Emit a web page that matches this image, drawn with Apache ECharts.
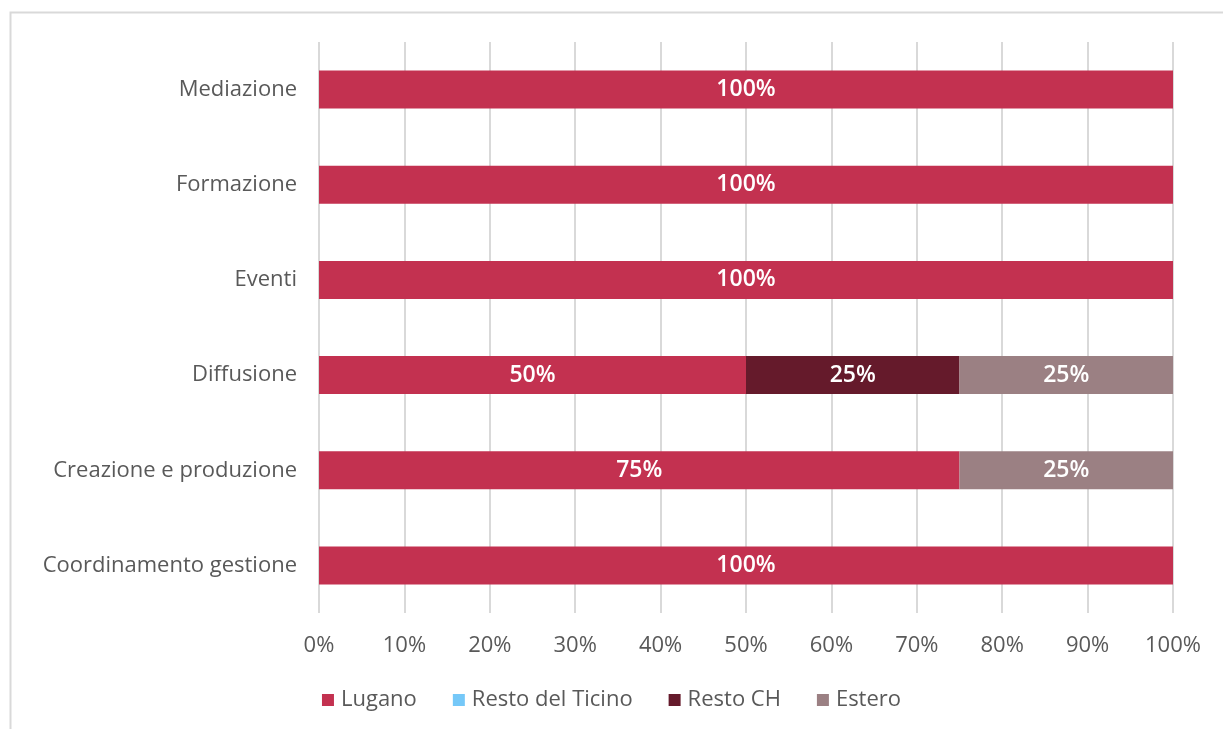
<!DOCTYPE html>
<html>
<head>
<meta charset="utf-8">
<script src="https://cdn.jsdelivr.net/npm/echarts@6/dist/echarts.min.js"></script>
<style>
  html, body { margin: 0; padding: 0; background: #fff; }
  #chart { width: 1223px; height: 729px; }
</style>
</head>
<body>
<div id="chart"></div>
<script>
// categories listed bottom to top
const categories = [
  "Coordinamento gestione",
  "Creazione e produzione",
  "Diffusione",
  "Eventi",
  "Formazione",
  "Mediazione",
];
const lugano = [100, 75, 50, 100, 100, 100];
const restoTicino = [0, 0, 0, 0, 0, 0];
const restoCH = [0, 0, 25, 0, 0, 0];
const estero = [0, 25, 25, 0, 0, 0];
const xTicks = [0, 10, 20, 30, 40, 50, 60, 70, 80, 90, 100];

const font = "'Open Sans', 'Noto Sans', sans-serif";
const textColor = "#595959";

const makeSeries = (name, data, color) => ({
  name,
  type: "bar",
  stack: "total",
  data,
  barWidth: "40%",
  itemStyle: { color },
  label: {
    show: true,
    position: "inside",
    color: "#fff",
    fontFamily: font,
    fontWeight: 600,
    fontSize: 23,
    formatter: (p) => (p.value ? p.value + "%" : ""),
  },
});

const chart = echarts.init(document.getElementById("chart"));
chart.setOption({
  animation: false,
  graphic: [
    {
      type: "rect",
      shape: { x: 10.5, y: 12.5, width: 1240, height: 740 },
      style: { fill: "none", stroke: "#d9d9d9", lineWidth: 2 },
      silent: true,
    },
  ],
  grid: { left: 319, right: 50, top: 42, bottom: 116 },
  legend: {
    bottom: 13,
    left: "center",
    itemWidth: 12,
    itemHeight: 12,
    itemGap: 36,
    icon: "rect",
    textStyle: { color: textColor, fontSize: 22, fontFamily: font, padding: [0, 0, 0, 2] },
    data: ["Lugano", "Resto del Ticino", "Resto CH", "Estero"],
  },
  xAxis: {
    type: "value",
    min: 0,
    max: 100,
    interval: 10,
    axisLine: { show: false },
    axisTick: { show: false },
    splitLine: { show: true, lineStyle: { color: "#d9d9d9", width: 2 } },
    axisLabel: {
      color: textColor,
      fontSize: 22,
      fontFamily: font,
      margin: 22,
      formatter: (v) => (xTicks.includes(v) ? v + "%" : ""),
    },
  },
  yAxis: {
    type: "category",
    data: categories,
    axisLine: { show: false },
    axisTick: { show: false },
    axisLabel: { color: textColor, fontSize: 22, fontFamily: font, margin: 22, padding: [4, 0, 0, 0] },
  },
  series: [
    makeSeries("Lugano", lugano, "#c33150"),
    makeSeries("Resto del Ticino", restoTicino, "#75c8f8"),
    makeSeries("Resto CH", restoCH, "#651a2b"),
    makeSeries("Estero", estero, "#9b8083"),
  ],
});
</script>
</body>
</html>
